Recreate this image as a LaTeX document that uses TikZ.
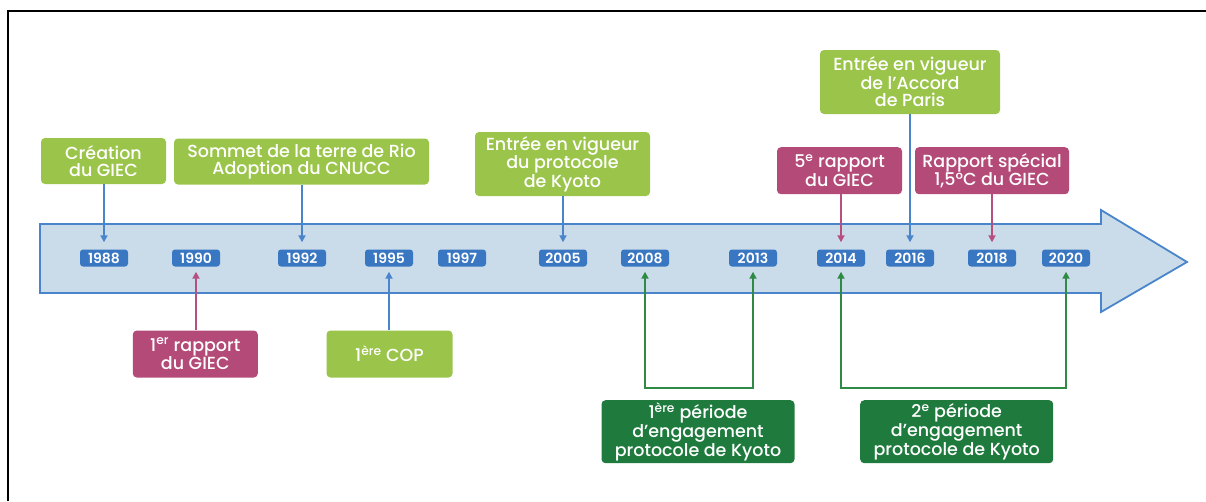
\documentclass[tikz,border=0pt]{standalone}
\usepackage{fontspec}
\setmainfont{Poppins}[UprightFont={* Medium}, BoldFont={* SemiBold}]
\usetikzlibrary{arrows.meta,calc}
\definecolor{lgreen}{HTML}{9BC54A}
\definecolor{magen}{HTML}{B34A78}
\definecolor{dgreen}{HTML}{1E7B3D}
\definecolor{yearblue}{HTML}{3A77C2}
\definecolor{bandfill}{HTML}{CADCEA}
\definecolor{bandline}{HTML}{4A85CC}
\definecolor{magarr}{HTML}{B5507F}
\definecolor{garr}{HTML}{2F8A46}
\tikzset{
  lbl/.style={rounded corners=4pt, text=white, align=center, inner sep=0pt,
    font=\fontsize{17.5}{17.5}\selectfont},
  lgbox/.style={lbl, fill=lgreen},
  mgbox/.style={lbl, fill=magen},
  dgbox/.style={lbl, fill=dgreen},
  yr/.style={fill=yearblue, rounded corners=3pt, text=white,
    font=\bfseries\fontsize{14}{14}\selectfont, minimum width=48pt,
    minimum height=17pt, inner sep=0pt},
  conn/.style={line width=2pt, -{Triangle[length=7pt,width=7pt]}},
  bconn/.style={conn, draw=bandline},
  mconn/.style={conn, draw=magarr},
  gconn/.style={line width=2pt, draw=garr,
    {Triangle[length=7pt,width=7pt]}-{Triangle[length=7pt,width=7pt]}},
}
\begin{document}
\begin{tikzpicture}[x=1pt,y=-1pt]
\useasboundingbox (0,0) rectangle (1206,501);
% frame
\draw[line width=1.5pt] (8,501) -- (8,11) -- (1206,11);
% band arrow
\draw[draw=bandline, fill=bandfill, line width=1.8pt, line join=miter]
  (40,224) -- (1101,224) -- (1101,210) -- (1187,262) -- (1101,312) -- (1101,293) -- (40,293) -- cycle;
% years
\node[yr] (y1988) at (104,258) {1988};
\node[yr] (y1990) at (196,258) {1990};
\node[yr] (y1992) at (302,258) {1992};
\node[yr] (y1995) at (389,258) {1995};
\node[yr] (y1997) at (462,258) {1997};
\node[yr] (y2005) at (563,258) {2005};
\node[yr] (y2008) at (645,258) {2008};
\node[yr] (y2013) at (753,258) {2013};
\node[yr] (y2014) at (841,258) {2014};
\node[yr] (y2016) at (910,258) {2016};
\node[yr] (y2018) at (992,258) {2018};
\node[yr] (y2020) at (1066,258) {2020};
% top boxes
\node[lgbox, minimum width=125pt, minimum height=46pt] (crea) at (103.5,161) {Création\\du GIEC};
\node[lgbox, minimum width=255pt, minimum height=46pt] (rio) at (301.5,161.5) {Sommet de la terre de Rio\\Adoption du CNUCC};
\node[lgbox, minimum width=175pt, minimum height=64pt] (kyoto) at (562.5,164) {Entrée en vigueur\\du protocole\\de Kyoto};
\node[lgbox, minimum width=180pt, minimum height=64pt] (paris) at (910,82) {Entrée en vigueur\\de l’Accord\\de Paris};
\node[mgbox, minimum width=125pt, minimum height=47pt] (r5) at (839.5,170.7) {5\textsuperscript{e} rapport\\du GIEC};
\node[mgbox, minimum width=154pt, minimum height=47pt] (rsp) at (992,170.7) {Rapport spécial\\1,5°C du GIEC};
% bottom boxes
\node[mgbox, minimum width=125pt, minimum height=47pt] (r1) at (195.3,354) {1\textsuperscript{er} rapport\\du GIEC};
\node[lgbox, minimum width=126pt, minimum height=47pt] (cop) at (389.5,354) {1\textsuperscript{ère} COP};
\node[dgbox, minimum width=193pt, minimum height=63pt] (p1) at (698,431.7) {1\textsuperscript{ère} période\\d’engagement\\protocole de Kyoto};
\node[dgbox, minimum width=193pt, minimum height=63pt] (p2) at (956.7,431.7) {2\textsuperscript{e} période\\d’engagement\\protocole de Kyoto};
% top connectors
\draw[bconn, shorten >=7pt] (crea.south -| y1988.north) -- (y1988.north);
\draw[bconn, shorten >=7pt] (rio.south -| y1992.north) -- (y1992.north);
\draw[bconn, shorten >=7pt] (kyoto.south -| y2005.north) -- (y2005.north);
\draw[bconn, shorten >=7pt] (paris.south -| y2016.north) -- (y2016.north);
\draw[mconn, shorten >=7pt] (r5.south -| y2014.north) -- (y2014.north);
\draw[mconn, shorten >=7pt] (rsp.south -| y2018.north) -- (y2018.north);
% bottom connectors
\draw[mconn, shorten >=5pt] (r1.north -| y1990.south) -- (y1990.south);
\draw[bconn, shorten >=5pt] (cop.north -| y1995.south) -- (y1995.south);
\coordinate (g1) at (0,388);
\draw[gconn, shorten <=5pt, shorten >=5pt] (y2008.south) -- (y2008.south |- g1) -- (y2013.south |- g1) -- (y2013.south);
\draw[gconn, shorten <=5pt, shorten >=5pt] (y2014.south) -- (y2014.south |- g1) -- (y2020.south |- g1) -- (y2020.south);
\end{tikzpicture}
\end{document}
